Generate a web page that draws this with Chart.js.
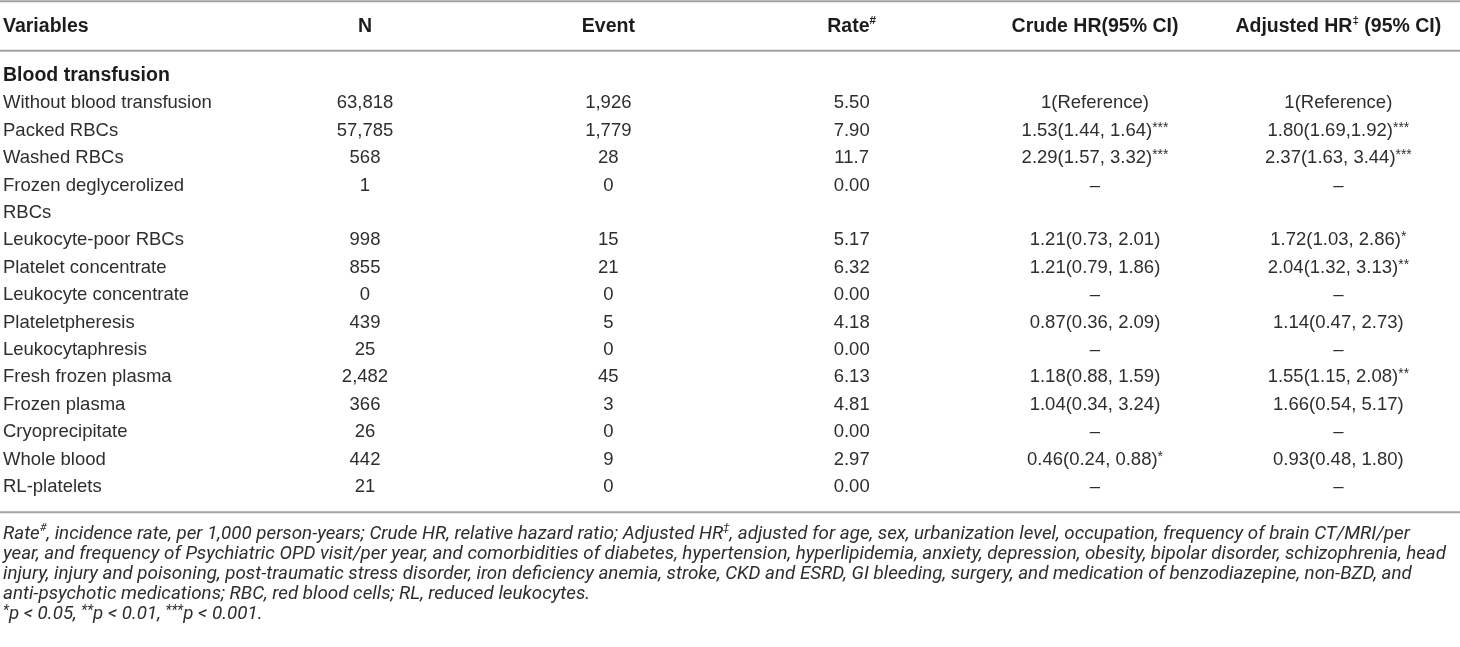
<!DOCTYPE html>
<html>
<head>
<meta charset="utf-8">
<script src="https://cdn.jsdelivr.net/npm/chart.js@4.4.1/dist/chart.umd.min.js"></script>
<style>
  html, body { margin: 0; padding: 0; background: #fff; }
  #wrap { width: 1460px; height: 647px; position: relative; }
</style>
</head>
<body>
<div id="wrap"><canvas id="tabla"></canvas></div>
<script>
// rows of the table (first column)
const rowLabels = [
  'Blood transfusion',
  'Without blood transfusion',
  'Packed RBCs',
  'Washed RBCs',
  'Frozen deglycerolized',
  'RBCs',
  'Leukocyte-poor RBCs',
  'Platelet concentrate',
  'Leukocyte concentrate',
  'Plateletpheresis',
  'Leukocytaphresis',
  'Fresh frozen plasma',
  'Frozen plasma',
  'Cryoprecipitate',
  'Whole blood',
  'RL-platelets'
];
const firstColumnLabel = 'Variables';
const columnLabels = ['N', 'Event', 'Rate#', 'Crude HR(95% CI)', 'Adjusted HR‡ (95% CI)'];

const nValues = ['', '63,818', '57,785', '568', '1', '', '998', '855', '0', '439', '25', '2,482', '366', '26', '442', '21'];
const eventValues = ['', '1,926', '1,779', '28', '0', '', '15', '21', '0', '5', '0', '45', '3', '0', '9', '0'];
const rateValues = ['', '5.50', '7.90', '11.7', '0.00', '', '5.17', '6.32', '0.00', '4.18', '0.00', '6.13', '4.81', '0.00', '2.97', '0.00'];
const crudeHR = ['', '1(Reference)', '1.53(1.44, 1.64)***', '2.29(1.57, 3.32)***', '–', '',
  '1.21(0.73, 2.01)', '1.21(0.79, 1.86)', '–', '0.87(0.36, 2.09)', '–',
  '1.18(0.88, 1.59)', '1.04(0.34, 3.24)', '–', '0.46(0.24, 0.88)*', '–'];
const adjustedHR = ['', '1(Reference)', '1.80(1.69,1.92)***', '2.37(1.63, 3.44)***', '–', '',
  '1.72(1.03, 2.86)*', '2.04(1.32, 3.13)**', '–', '1.14(0.47, 2.73)', '–',
  '1.55(1.15, 2.08)**', '1.66(0.54, 5.17)', '–', '0.93(0.48, 1.80)', '–'];

const footnotes = [
  'Rate#, incidence rate, per 1,000 person-years; Crude HR, relative hazard ratio; Adjusted HR‡, adjusted for age, sex, urbanization level, occupation, frequency of brain CT/MRI/per',
  'year, and frequency of Psychiatric OPD visit/per year, and comorbidities of diabetes, hypertension, hyperlipidemia, anxiety, depression, obesity, bipolar disorder, schizophrenia, head',
  'injury, injury and poisoning, post-traumatic stress disorder, iron deficiency anemia, stroke, CKD and ESRD, GI bleeding, surgery, and medication of benzodiazepine, non-BZD, and',
  'anti-psychotic medications; RBC, red blood cells; RL, reduced leukocytes.',
  '*p < 0.05, **p < 0.01, ***p < 0.001.'
];

const FAMILY = '"Liberation Sans", Arial, sans-serif';
const NOTE_FAMILY = 'Roboto, "Liberation Sans", sans-serif';
const TEXT_COLOR = '#2e2e2e';
const BOLD_COLOR = '#1c1c1c';
const RULE_COLOR = '#a3a3a3';

// split a string into normal / superscript pieces (#, ‡ and * are raised)
function splitSup(text) {
  const parts = [];
  for (const ch of text) {
    const sup = ch === '#' || ch === '‡' || ch === '*';
    const last = parts[parts.length - 1];
    if (last && last.sup === sup && (!sup || last.t[0] === ch)) last.t += ch;
    else parts.push({t: ch, sup: sup});
  }
  return parts;
}

// asterisks sit high already, so they get less shrinking and lifting
function supSize(p, size) {
  return p.t[0] === '*' ? size * 0.75 : size * 0.6;
}
function supLift(p, size) {
  return p.t[0] === '*' ? size * 0.15 : size * 0.32;
}

function richWidth(ctx, text, style, size, fam) {
  let total = 0;
  splitSup(text).forEach(p => {
    ctx.font = style + ' ' + (p.sup ? supSize(p, size) : size) + 'px ' + fam;
    total += ctx.measureText(p.t).width;
  });
  return total;
}

function drawRich(ctx, text, x, y, align, style, size, color, family) {
  const fam = family || FAMILY;
  const parts = splitSup(text);
  let total = 0;
  parts.forEach(p => {
    ctx.font = style + ' ' + (p.sup ? supSize(p, size) : size) + 'px ' + fam;
    p.w = ctx.measureText(p.t).width;
    total += p.w;
  });
  let cx = align === 'center' ? x - total / 2 : x;
  ctx.fillStyle = color;
  ctx.textAlign = 'left';
  ctx.textBaseline = 'middle';
  parts.forEach(p => {
    ctx.font = style + ' ' + (p.sup ? supSize(p, size) : size) + 'px ' + fam;
    ctx.fillText(p.t, cx, p.sup ? y - supLift(p, size) : y);
    cx += p.w;
  });
}

const tablePlugin = {
  id: 'tableCells',
  afterDraw(chart) {
    const {ctx, chartArea} = chart;
    const xs = chart.scales.x;
    const ys = chart.scales.y;
    const step = ys.getPixelForValue(1) - ys.getPixelForValue(0);
    const headerY = chartArea.top - 1.8 * step;
    const left = ys.left;

    ctx.save();
    // horizontal rules
    ctx.strokeStyle = RULE_COLOR;
    ctx.lineWidth = 2;
    [1.2, chartArea.top - 0.92 * step, chartArea.bottom + 0.92 * step].forEach(yy => {
      ctx.beginPath();
      ctx.moveTo(0, yy);
      ctx.lineTo(chart.width, yy);
      ctx.stroke();
    });

    // header row
    drawRich(ctx, firstColumnLabel, left, headerY, 'left', 'bold', 19.5, BOLD_COLOR);
    columnLabels.forEach((lab, j) => {
      drawRich(ctx, lab, xs.getPixelForValue(j), headerY, 'center', 'bold', 19.5, BOLD_COLOR);
    });

    // body cells
    [nValues, eventValues, rateValues, crudeHR, adjustedHR].forEach((col, j) => {
      col.forEach((v, i) => {
        if (v) drawRich(ctx, v, xs.getPixelForValue(j), ys.getPixelForValue(i), 'center', 'normal', 18.5, TEXT_COLOR);
      });
    });

    // footnote: italic, fitted so the widest line fills the table
    const noteSize = 19;
    const widest = richWidth(ctx, footnotes[1], 'italic', noteSize, NOTE_FAMILY);
    const squeeze = 1443 / widest;
    footnotes.forEach((line, k) => {
      ctx.save();
      ctx.translate(left, chartArea.bottom + 47 + k * 20);
      ctx.scale(squeeze, 1);
      drawRich(ctx, line, 0, 0, 'left', 'italic', noteSize, TEXT_COLOR, NOTE_FAMILY);
      ctx.restore();
    });
    ctx.restore();
  }
};

const canvas = document.getElementById('tabla');
new Chart(canvas, {
  type: 'line',
  data: {
    labels: columnLabels,
    datasets: []
  },
  plugins: [tablePlugin],
  options: {
    animation: false,
    responsive: true,
    maintainAspectRatio: false,
    layout: {
      padding: {left: 3, right: 0, top: 76, bottom: 160}
    },
    plugins: {
      legend: {display: false},
      tooltip: {enabled: false}
    },
    scales: {
      x: {
        type: 'category',
        labels: columnLabels,
        offset: true,
        display: false
      },
      y: {
        type: 'category',
        labels: rowLabels,
        offset: false,
        position: 'left',
        grid: {display: false},
        border: {display: false},
        afterFit: function(scale) {
          scale.width = 240.33;
        },
        ticks: {
          autoSkip: false,
          crossAlign: 'far',
          padding: 0,
          color: function(context) {
            return context.index === 0 ? BOLD_COLOR : TEXT_COLOR;
          },
          font: function(context) {
            return context.index === 0
              ? {family: FAMILY, size: 19.5, weight: 'bold'}
              : {family: FAMILY, size: 18.5, weight: 'normal'};
          }
        }
      }
    }
  }
});
</script>
</body>
</html>
